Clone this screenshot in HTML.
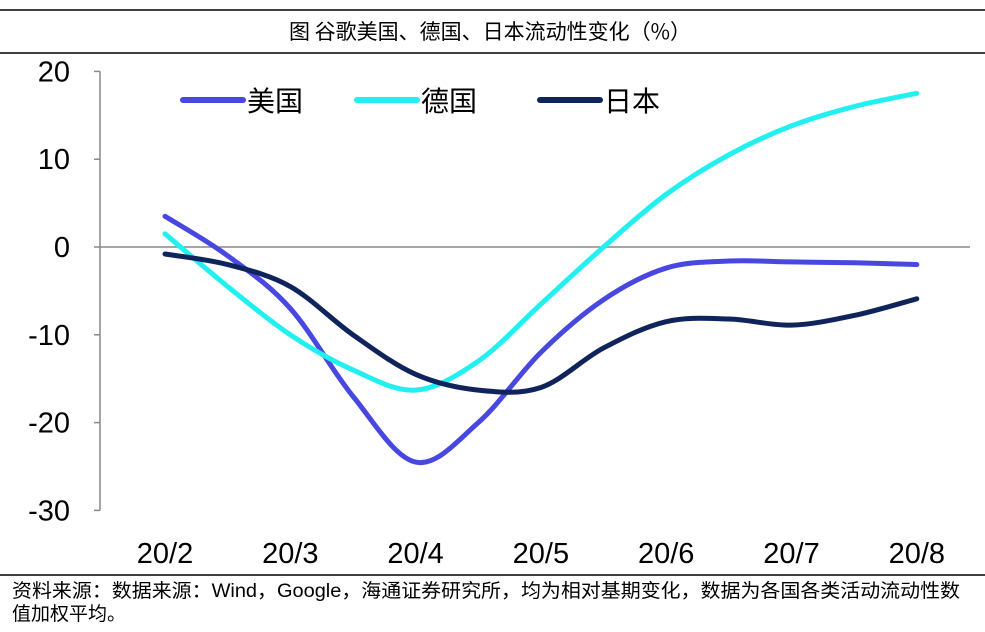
<!DOCTYPE html>
<html><head><meta charset="utf-8"><style>
body{margin:0;background:#fff;width:985px;height:627px;overflow:hidden;font-family:"Liberation Sans","Noto Sans CJK SC",sans-serif}
</style></head><body>
<svg id="chart" width="985" height="627" xmlns="http://www.w3.org/2000/svg">
<line x1="0" y1="10" x2="985" y2="10" stroke="#000" stroke-width="1.5"/>
<text x="490" y="39" text-anchor="middle" font-size="21" font-family="'Noto Sans CJK SC',sans-serif">图  谷歌美国、德国、日本流动性变化（%）</text>
<line x1="0" y1="53" x2="985" y2="53" stroke="#000" stroke-width="1.5"/>
<line x1="0" y1="575" x2="985" y2="575" stroke="#000" stroke-width="1.5"/>
<text x="12" y="597" font-size="19" textLength="948" lengthAdjust="spacingAndGlyphs" font-family="'Liberation Sans','Noto Sans CJK SC',sans-serif">资料来源：数据来源：Wind，Google，海通证券研究所，均为相对基期变化，数据为各国各类活动流动性数</text>
<text x="12" y="620" font-size="19" font-family="'Liberation Sans','Noto Sans CJK SC',sans-serif">值加权平均。</text>
<g id="plot"></g>
</svg>
<script>
const categories=["20/2","20/3","20/4","20/5","20/6","20/7","20/8"];
const yTicks=[20,10,0,-10,-20,-30];
const seriesNames=["美国","德国","日本"];
// half-month samples from 20/2 to 20/8
const usValues=[3.5,-1,-7,-17,-24.5,-20,-12,-6,-2.4,-1.6,-1.7,-1.8,-2];
const deValues=[1.5,-4.5,-10,-14,-16.3,-13,-6.5,0,6,10.5,13.8,16,17.5];
const jpValues=[-0.8,-2,-4.5,-10,-14.5,-16.3,-16,-11.5,-8.5,-8.2,-8.9,-7.8,-5.9];
const colors=["#4848e0","#22f0f0","#10245c"];
const NS="http://www.w3.org/2000/svg";
const g=document.getElementById('plot');
const x=i=>165+i*125.3;
const y=v=>247-v*8.78;
function el(t,a){const e=document.createElementNS(NS,t);for(const k in a)e.setAttribute(k,a[k]);g.appendChild(e);return e;}
let a=el('line',{x1:100,y1:y(20),x2:100,y2:y(-30),stroke:'#888','stroke-width':1.5});


a=el('line',{x1:100,y1:y(0),x2:970,y2:y(0),stroke:'#888','stroke-width':1.5});


yTicks.forEach(v=>{
 let t=el('line',{x1:94,y1:y(v),x2:100,y2:y(v),stroke:'#888','stroke-width':1.5});
 
 
 let l=el('text',{x:70,y:y(v)+10,'text-anchor':'end','font-size':29,fill:'#000'});
 l.textContent=v;
 
 
});
categories.forEach((c,i)=>{
 let l=el('text',{x:x(i),y:563,'text-anchor':'middle','font-size':29,fill:'#000'});
 l.textContent=c;
 
 
});
function path(vals){
 const p=vals.map((v,i)=>[x(i/2),y(v)]);
 let d='M'+p[0][0]+','+p[0][1];
 for(let i=0;i<p.length-1;i++){
  const p0=p[i-1]||p[i],p1=p[i],p2=p[i+1],p3=p[i+2]||p2;
  d+=' C'+(p1[0]+(p2[0]-p0[0])/6)+','+(p1[1]+(p2[1]-p0[1])/6)+' '+(p2[0]-(p3[0]-p1[0])/6)+','+(p2[1]-(p3[1]-p1[1])/6)+' '+p2[0]+','+p2[1];
 }
 return d;
}
[usValues,deValues,jpValues].forEach((vals,k)=>{
 const s=el('path',{d:path(vals),fill:'none',stroke:colors[k],'stroke-width':5,'stroke-linecap':'round'});
 
 
});
const legX=[183,357,540];
seriesNames.forEach((n,k)=>{
 const ln=el('line',{x1:legX[k],y1:100,x2:legX[k]+60,y2:100,stroke:colors[k],'stroke-width':6,'stroke-linecap':'round'});
 
 
 const t=el('text',{x:legX[k]+64,y:111,'font-size':28,'font-family':"'Noto Sans CJK SC',sans-serif",fill:'#000'});
 t.textContent=n;
 
 
});
</script>
</body></html>
